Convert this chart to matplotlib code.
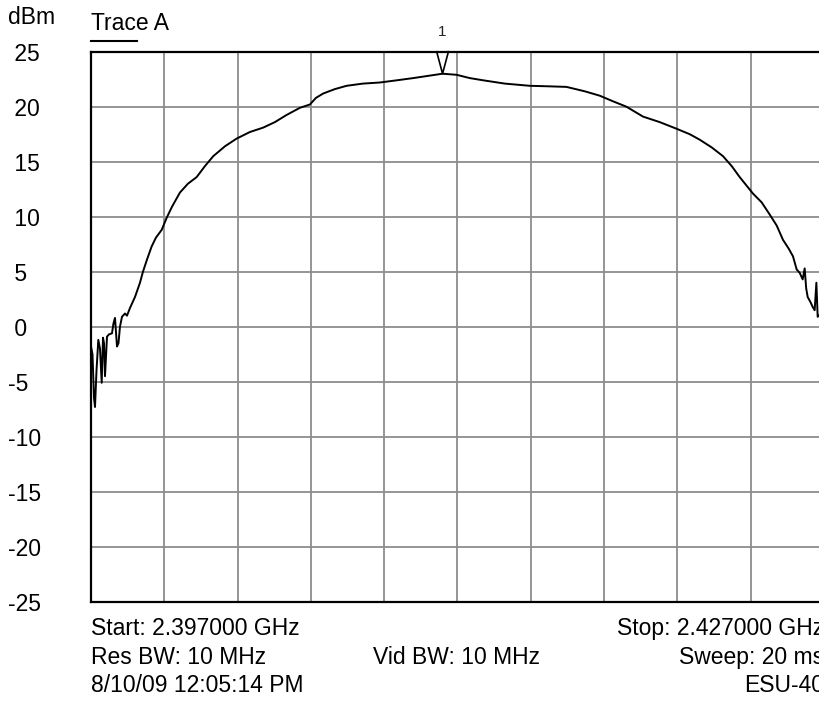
import numpy as np
import matplotlib.pyplot as plt

plt.rcParams['font.family'] = ['Liberation Sans', 'DejaVu Sans']

# trace A (MHz, dBm)
freq_mhz = [
    2397.000, 2397.061, 2397.123, 2397.164, 2397.225, 2397.299, 2397.368, 2397.438,
    2397.491, 2397.532, 2397.573, 2397.655, 2397.736, 2397.859, 2397.920, 2397.982,
    2398.023, 2398.064, 2398.125, 2398.186, 2398.268, 2398.391, 2398.473, 2398.595,
    2398.800, 2399.005, 2399.127, 2399.291, 2399.483, 2399.659, 2399.892, 2400.097,
    2400.314, 2400.641, 2400.968, 2401.324, 2401.663, 2402.003, 2402.482, 2402.960,
    2403.504, 2404.049, 2404.527, 2405.006, 2405.550, 2405.959, 2406.205, 2406.504,
    2406.982, 2407.461, 2408.128, 2408.823, 2409.518, 2410.186, 2410.787, 2411.388,
    2411.961, 2412.505, 2413.049, 2413.937, 2414.958, 2415.777, 2416.460, 2417.208,
    2417.822, 2418.354, 2418.914, 2419.593, 2420.276, 2420.960, 2421.504, 2421.913,
    2422.404, 2422.867, 2423.223, 2423.550, 2424.094, 2424.450, 2424.777, 2425.063,
    2425.321, 2425.554, 2425.730, 2425.882, 2426.005, 2426.127, 2426.209, 2426.270,
    2426.332, 2426.455, 2426.536, 2426.618, 2426.688, 2426.741, 2426.864, 2426.986,
]
level_dbm = [
    -1.8, -2.5, -6.5, -7.3, -4.0, -1.2, -2.0, -5.1,
    -1.0, -1.5, -4.5, -0.9, -0.7, -0.6, 0.3, 0.8,
    -0.5, -1.8, -1.5, 0.0, 0.9, 1.2, 1.0, 1.7,
    2.7, 4.0, 5.0, 6.1, 7.3, 8.1, 8.8, 9.9,
    10.9, 12.2, 13.0, 13.6, 14.6, 15.5, 16.4, 17.1,
    17.7, 18.1, 18.6, 19.25, 19.9, 20.2, 20.8, 21.2,
    21.6, 21.9, 22.1, 22.2, 22.4, 22.6, 22.8, 23.0,
    22.9, 22.6, 22.4, 22.1, 21.9, 21.85, 21.8, 21.4,
    21.0, 20.5, 20.0, 19.1, 18.6, 18.0, 17.5, 17.0,
    16.3, 15.5, 14.6, 13.6, 12.1, 11.3, 10.2, 9.2,
    7.9, 7.1, 6.4, 5.2, 4.9, 4.3, 5.3, 3.5,
    2.7, 2.2, 1.8, 1.5, 4.0, 0.9, 1.2, 0.6,
]

y_ticks = [25, 20, 15, 10, 5, 0, -5, -10, -15, -20, -25]
x_ticks = list(range(2397, 2428, 3))

W, H = 819, 709
FS = 16.5
fig = plt.figure(figsize=(W / 100, H / 100), dpi=100)
# the plot box runs a few pixels past the right edge, like the screenshot
ax = fig.add_axes([91 / W, (H - 601.7) / H, 733 / W, 550 / H])

ax.plot(freq_mhz, level_dbm, color='black', lw=1.4, zorder=3)

ax.set_xlim(2397, 2427)
ax.set_ylim(-25, 25)
ax.set_xticks(x_ticks)
ax.set_xticklabels([])
ax.set_yticks(y_ticks)
ax.set_yticklabels([(' ' if v >= 0 else '') + str(v) for v in y_ticks],
                   ha='left', fontsize=FS)
ax.tick_params(axis='both', length=0)
ax.tick_params(axis='y', pad=59.8)
ax.grid(True, color='#8c8c8c', lw=1.3)
ax.set_axisbelow(True)
for side in ['top', 'left', 'bottom', 'right']:
    ax.spines[side].set_linewidth(1.6)
    ax.spines[side].set_color('black')

# marker 1 at the peak
i_pk = int(np.argmax(level_dbm))
f_pk, l_pk = freq_mhz[i_pk], level_dbm[i_pk]
ax.plot([f_pk - 0.24, f_pk, f_pk + 0.24], [25, l_pk, 25], color='black',
        lw=1.2, clip_on=False, zorder=4)
ax.annotate('1', xy=(f_pk, 1.0), xycoords=('data', 'axes fraction'),
            xytext=(0, 14.4), textcoords='offset points',
            ha='center', va='center', fontsize=11, color='#222222')


def px_text(x, y, s, **kw):
    fig.text(x / W, 1 - y / H, s, fontsize=FS, va='center', **kw)


px_text(8, 17, 'dBm')
px_text(91, 24, 'Trace A')
fig.add_artist(plt.Line2D([91 / W, 137 / W], [1 - 41 / H, 1 - 41 / H],
                          color='black', lw=1.5))

px_text(91, 628.5, 'Start: 2.397000 GHz')
px_text(91, 657.5, 'Res BW: 10 MHz')
px_text(91, 686, '8/10/09 12:05:14 PM')
px_text(373, 657.5, 'Vid BW: 10 MHz')
px_text(824, 628.5, 'Stop: 2.427000 GHz', ha='right')
px_text(824, 657.5, 'Sweep: 20 ms', ha='right')
px_text(824, 686, 'ESU-40', ha='right')

fig.savefig('out.png', dpi=100)
